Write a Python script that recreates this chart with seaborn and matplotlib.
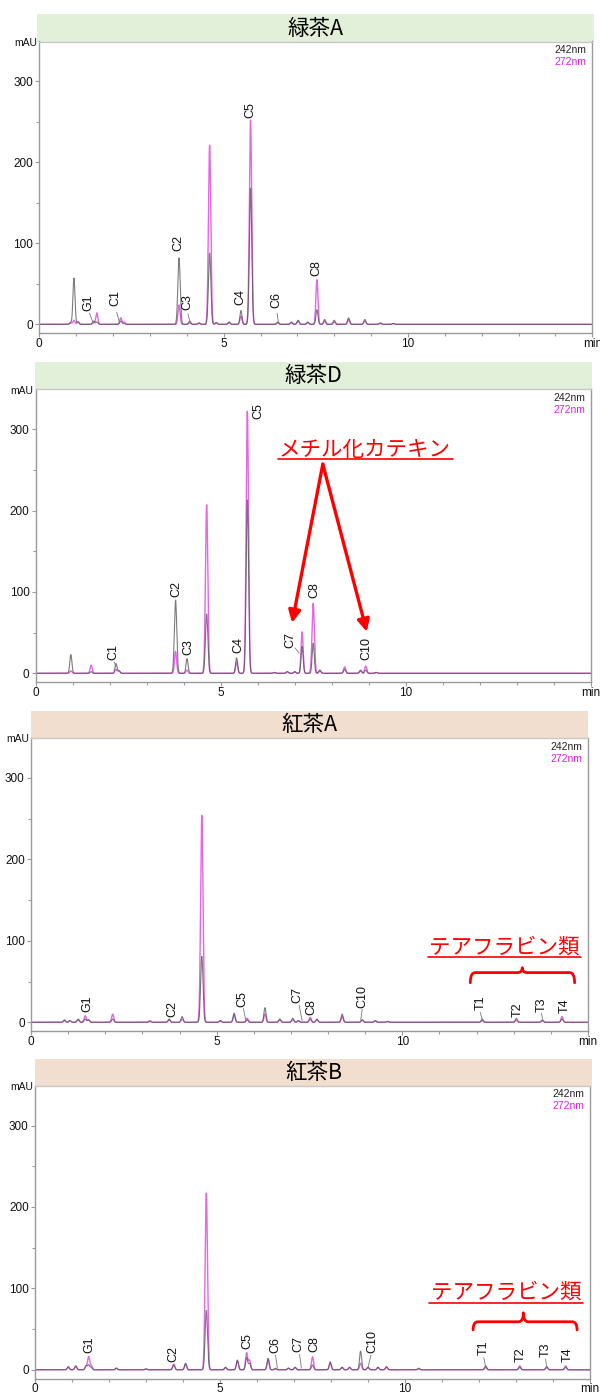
import numpy as np
import pandas as pd
import matplotlib
matplotlib.use("Agg")
import matplotlib.pyplot as plt
from matplotlib.path import Path
from matplotlib.patches import PathPatch
from matplotlib.ticker import MultipleLocator
import seaborn as sns

sns.set_theme(style="white")
plt.rcParams["font.family"] = ["Liberation Sans", "Noto Sans CJK JP", "DejaVu Sans"]
CJK = ["Noto Sans CJK JP", "DejaVu Sans"]

# ---------------- data ----------------
titles = ["緑茶A", "緑茶D", "紅茶A", "紅茶B"]
banner_colors = ["#e2efd9", "#e2efd9", "#f2dece", "#f2dece"]

# peak retention times (min) and heights (mAU) at 242 nm and 272 nm
p1_t   = [0.85, 0.94, 1.05, 1.47, 1.56, 2.21, 2.30, 3.79, 4.08, 4.33, 4.62, 4.80, 5.15, 5.47, 5.73, 6.47, 6.84, 7.02, 7.28, 7.53, 7.74, 8.00, 8.39, 8.83, 9.25, 9.60]
p1_242 = [2, 57, 3, 4, 3, 4, 1, 82, 4, 2, 88, 2, 3, 17, 168, 3, 2, 5, 3, 18, 6, 5, 8, 6, 2, 1]
p1_272 = [2, 5, 3, 2, 14, 8, 3, 24, 2, 1, 221, 2, 2, 10, 252, 2, 3, 4, 2, 55, 4, 3, 6, 4, 1, 1]

p2_t   = [0.95, 1.50, 2.17, 2.25, 3.78, 4.09, 4.62, 5.43, 5.72, 6.45, 6.80, 7.00, 7.20, 7.50, 7.68, 8.35, 8.78, 8.92, 9.20]
p2_242 = [23, 2, 12, 3, 90, 18, 73, 19, 213, 1, 2, 2, 33, 37, 4, 5, 3, 4, 1]
p2_272 = [3, 10, 5, 3, 27, 4, 207, 14, 322, 1, 2, 2, 51, 86, 3, 8, 4, 9, 1]

p3_t   = [0.90, 1.05, 1.27, 1.46, 1.55, 2.20, 3.20, 3.72, 4.07, 4.60, 5.10, 5.47, 5.82, 6.30, 6.70, 7.05, 7.20, 7.52, 7.70, 8.38, 8.92, 9.27, 9.60, 12.15, 13.07, 13.77, 14.30]
p3_242 = [3, 2, 4, 4, 3, 4, 2, 4, 7, 81, 2, 11, 3, 18, 4, 5, 2, 4, 4, 10, 3, 2, 1, 4, 3, 3, 4]
p3_272 = [2, 2, 3, 8, 3, 10, 1, 3, 4, 254, 2, 9, 5, 10, 3, 3, 2, 6, 3, 7, 3, 2, 1, 2, 5, 2, 7]

p4_t   = [0.90, 1.10, 1.38, 1.45, 1.52, 2.20, 3.00, 3.75, 4.07, 4.63, 5.15, 5.47, 5.72, 5.80, 6.30, 6.50, 6.85, 7.03, 7.50, 7.98, 8.30, 8.50, 8.80, 9.00, 9.27, 9.50, 10.37, 12.18, 13.10, 13.83, 14.34]
p4_242 = [4, 5, 5, 6, 3, 2, 1, 6, 8, 73, 3, 12, 15, 8, 14, 2, 2, 3, 6, 10, 3, 3, 23, 3, 3, 4, 2, 5, 3, 4, 3]
p4_272 = [3, 4, 4, 16, 5, 2, 1, 7, 7, 217, 3, 11, 21, 12, 13, 1, 2, 3, 16, 8, 3, 3, 8, 3, 3, 3, 1, 3, 5, 3, 5]

peaks = [(p1_t, p1_242, p1_272), (p2_t, p2_242, p2_272),
         (p3_t, p3_242, p3_272), (p4_t, p4_242, p4_272)]

# peak labels: name, label time, label base (mAU), leader from, leader to
p1_labels = [("G1", 1.32, 16, (1.36, 14), (1.46, 2)), ("C1", 2.05, 22, (2.10, 15), (2.17, 3)),
             ("C2", 3.78, 91, None, None), ("C3", 4.03, 18, (4.03, 13), (4.10, 1)),
             ("C4", 5.45, 24, None, None), ("C5", 5.73, 255, None, None),
             ("C6", 6.44, 20, (6.45, 14), (6.49, 1)), ("C8", 7.52, 60, None, None)]
p2_labels = [("C1", 2.09, 16, (2.12, 14), (2.17, 8)), ("C2", 3.79, 94, None, None),
             ("C3", 4.12, 22, None, None), ("C4", 5.47, 25, None, None),
             ("C5", 6.01, 313, None, None), ("C7", 6.87, 31, (7.01, 31), (7.12, 25)),
             ("C8", 7.52, 92, None, None), ("C10", 8.93, 16, None, None)]
p3_labels = [("G1", 1.51, 13, None, None), ("C2", 3.80, 6, None, None),
             ("C5", 5.70, 19, (5.72, 17), (5.78, 3)), ("C7", 7.17, 24, (7.22, 21), (7.30, 2)),
             ("C8", 7.55, 9, None, None), ("C10", 8.92, 18, (8.92, 16), (8.88, 3)),
             ("T1", 12.10, 15, (12.10, 12), (12.16, 2)), ("T2", 13.10, 7, None, None),
             ("T3", 13.75, 13, (13.75, 11), (13.78, 2)), ("T4", 14.37, 11, None, None)]
p4_labels = [("G1", 1.48, 21, None, None), ("C2", 3.75, 10, None, None),
             ("C5", 5.75, 26, None, None), ("C6", 6.50, 21, (6.50, 18), (6.55, 2)),
             ("C7", 7.13, 22, (7.15, 19), (7.20, 2)), ("C8", 7.56, 22, None, None),
             ("C10", 9.12, 21, (9.08, 18), (9.00, 3)), ("T1", 12.12, 18, (12.13, 15), (12.18, 3)),
             ("T2", 13.14, 10, None, None), ("T3", 13.79, 16, (13.80, 13), (13.83, 3)),
             ("T4", 14.41, 10, None, None)]
labels = [p1_labels, p2_labels, p3_labels, p4_labels]

x_ticks = [0, 5, 10, 15]
x_ticklabels = ["0", "5", "10", "min"]
y_ticks = [0, 100, 200, 300]

# ---------------- layout (pixels) ----------------
W, H = 600, 1394
axes_px = [(39.3, 592.3, 41.5, 333.0), (35.7, 590.7, 389.3, 682.0),
           (31.0, 588.0, 738.0, 1031.0), (35.0, 590.0, 1085.7, 1378.5)]
banner_px = [(37.3, 594.0, 14.0, 41.5), (35.0, 592.0, 362.0, 389.3),
             (31.0, 588.0, 711.0, 738.0), (35.0, 592.0, 1059.0, 1085.7)]

def frac(r):
    x0, x1, y0, y1 = r
    return [x0 / W, 1 - y1 / H, (x1 - x0) / W, (y1 - y0) / H]

fig = plt.figure(figsize=(W / 100, H / 100), dpi=100)
t = np.linspace(0, 15, 4501)
PINK = "#e04ce0"
GREY = "#505050"
SPINE = "#9a9a9a"

def trace(times, heights):
    y = np.zeros_like(t)
    for t0, h in zip(times, heights):
        s = 0.028 if h < 60 else 0.032
        y += h * np.exp(-0.5 * ((t - t0) / s) ** 2)
    return y

def brace(ax, x0, x1, xm, y0, y1, y2):
    d = 0.13
    verts = [(x0, y0), (x0, y1), (x0 + d, y1), (xm - d, y1), (xm, y1), (xm, y2),
             (xm, y1), (xm + d, y1), (x1 - d, y1), (x1, y1), (x1, y0)]
    codes = [Path.MOVETO, Path.CURVE3, Path.CURVE3, Path.LINETO, Path.CURVE3, Path.CURVE3,
             Path.CURVE3, Path.CURVE3, Path.LINETO, Path.CURVE3, Path.CURVE3]
    ax.add_patch(PathPatch(Path(verts, codes), fill=False, edgecolor="red", lw=2.0,
                           clip_on=False, capstyle="round", joinstyle="round"))

for i in range(4):
    # banner
    bax = fig.add_axes(frac(banner_px[i]))
    bax.set_facecolor(banner_colors[i])
    bax.set_xticks([]); bax.set_yticks([])
    for sp in bax.spines.values():
        sp.set_visible(False)
    bax.text(0.5, 0.47, titles[i], ha="center", va="center", fontsize=15.5,
             family=CJK, color="black", transform=bax.transAxes)

    ax = fig.add_axes(frac(axes_px[i]))
    ax.set_facecolor("white")
    tt, h242, h272 = peaks[i]
    df = pd.DataFrame({"t": np.concatenate([t, t]),
                       "mAU": np.concatenate([trace(tt, h272), trace(tt, h242)]),
                       "nm": ["272nm"] * len(t) + ["242nm"] * len(t)})
    sns.lineplot(data=df[df.nm == "272nm"], x="t", y="mAU", ax=ax, color=PINK,
                 lw=1.0, estimator=None, sort=False, alpha=0.85)
    sns.lineplot(data=df[df.nm == "242nm"], x="t", y="mAU", ax=ax, color=GREY,
                 lw=0.8, estimator=None, sort=False, alpha=0.75)
    ax.set_xlim(0, 15)
    ax.set_ylim(-10.7, 349)
    ax.set_xlabel(""); ax.set_ylabel("")
    ax.set_xticks(x_ticks)
    ax.set_xticklabels(x_ticklabels)
    ax.set_yticks(y_ticks)
    ax.xaxis.set_minor_locator(MultipleLocator(1))
    ax.yaxis.set_minor_locator(MultipleLocator(50))
    ax.tick_params(which="both", bottom=True, left=True, direction="out",
                   color=SPINE, width=0.8, labelsize=8.5, labelcolor="#111", pad=1.5)
    ax.tick_params(axis="x", pad=0.5)
    ax.tick_params(which="major", length=3)
    ax.tick_params(which="minor", length=2.5)
    for name in ["left", "bottom", "right"]:
        ax.spines[name].set_color(SPINE)
        ax.spines[name].set_linewidth(1.0)
    ax.spines["top"].set_color("#c8c8c8")
    ax.spines["top"].set_linewidth(1.0)

    ax.text(-0.004, 0.995, "mAU", transform=ax.transAxes, ha="right", va="center",
            fontsize=7.5, color="#111")
    ax.text(0.99, 0.97, "242nm", transform=ax.transAxes, ha="right", va="center",
            fontsize=7.5, color="#222")
    ax.text(0.99, 0.93, "272nm", transform=ax.transAxes, ha="right", va="center",
            fontsize=7.5, color="#e020e0")

    for name, lx, ly, a, b in labels[i]:
        ax.text(lx, ly, name, rotation=90, ha="center", va="bottom", fontsize=9,
                color="#111")
        if a is not None:
            ax.plot([a[0], b[0]], [a[1], b[1]], color="#777", lw=0.6)

    if i == 1:
        ax.text(8.90, 275, "メチル化カテキン", ha="center", va="center", fontsize=15.5,
                family=CJK, color="red")
        ax.plot([6.55, 11.28], [263, 263], color="red", lw=1.2, clip_on=False)
        for tip in [(6.93, 62), (8.95, 51)]:
            ax.annotate("", xy=tip, xytext=(7.76, 257),
                        arrowprops=dict(arrowstyle="-|>", color="red", lw=2.4,
                                        mutation_scale=18, shrinkA=0, shrinkB=0))
    if i == 2:
        ax.text(12.75, 92, "テアフラビン類", ha="center", va="center", fontsize=15.5,
                family=CJK, color="red")
        ax.plot([10.70, 14.80], [80.5, 80.5], color="red", lw=1.2, clip_on=False)
        brace(ax, 11.83, 14.64, 13.23, 48.5, 61, 67)
    if i == 3:
        ax.text(12.73, 95, "テアフラビン類", ha="center", va="center", fontsize=15.5,
                family=CJK, color="red")
        ax.plot([10.65, 14.80], [81.5, 81.5], color="red", lw=1.2, clip_on=False)
        brace(ax, 11.84, 14.65, 13.20, 49, 59, 70)

fig.savefig("out.png", dpi=100, facecolor="white")
